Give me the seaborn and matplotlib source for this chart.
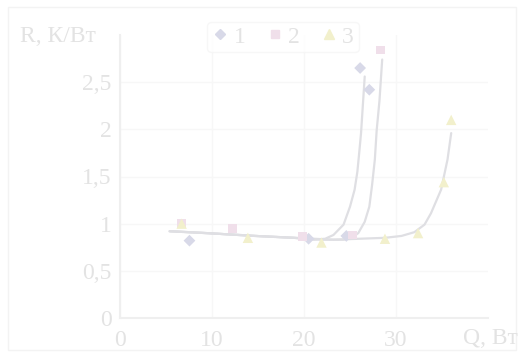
import matplotlib
matplotlib.use("Agg")
import matplotlib.pyplot as plt
import numpy as np
import pandas as pd
import seaborn as sns
from matplotlib.ticker import FuncFormatter

sns.set_theme(style="white")
plt.rcParams["font.family"] = ["Liberation Serif", "DejaVu Serif"]

# Measured points (Q, W -> R, K/W)
q1 = [7.55, 20.5, 24.6, 26.1, 27.1]
r1 = [0.82, 0.84, 0.87, 2.65, 2.42]

q2 = [6.7, 12.2, 19.8, 25.3, 28.3]
r2 = [1.00, 0.95, 0.86, 0.88, 2.84]

q3 = [6.7, 13.9, 21.9, 28.8, 32.4, 35.2, 36.0]
r3 = [1.00, 0.85, 0.80, 0.84, 0.90, 1.44, 2.10]

# Hand-drawn smooth curves
c1_q = [5.4, 9.4, 14.7, 18.9, 21.1, 22.3, 23.2, 24.3, 25.0, 25.5, 25.8, 26.0, 26.2, 26.4, 26.6]
c1_r = [0.92, 0.90, 0.87, 0.85, 0.83, 0.84, 0.88, 0.99, 1.18, 1.36, 1.55, 1.75, 1.96, 2.26, 2.56]

c2_q = [5.4, 9.4, 14.7, 18.9, 22.1, 24.3, 25.3, 25.9, 26.6, 27.1, 27.4, 27.7, 27.9, 28.2, 28.5]
c2_r = [0.92, 0.90, 0.87, 0.85, 0.83, 0.83, 0.86, 0.90, 1.02, 1.18, 1.41, 1.68, 1.99, 2.30, 2.74]

c3_q = [5.4, 9.4, 14.7, 18.9, 23.2, 28.8, 30.6, 32.0, 33.1, 33.8, 34.9, 35.6, 36.0]
c3_r = [0.92, 0.90, 0.87, 0.85, 0.83, 0.85, 0.87, 0.91, 0.99, 1.11, 1.36, 1.68, 1.96]

x_ticks = [0, 10, 20, 30]
y_ticks = [0, 0.5, 1, 1.5, 2, 2.5]

TEXT = "#e3e3e3"
LINE = "#dfdfe3"
COL1 = "#d8d9e8"
COL2 = "#f0dfea"
COL3 = "#f2f0cc"
FS = 17


def comma_fmt(v, pos):
    s = f"{v:g}"
    return s.replace(".", ",")


fig = plt.figure(figsize=(5.2, 3.52), dpi=100)
fig.patch.set_facecolor("white")
fig.patches.append(plt.Rectangle((8 / 520, 2 / 352), 508 / 520, 343 / 352,
                                 transform=fig.transFigure, fill=False,
                                 edgecolor="#f3f3f3", lw=1))
ax = fig.add_axes([120 / 520, 34 / 352, (488 - 120) / 520, (318 - 35) / 352])

for cq, cr in [(c1_q, c1_r), (c2_q, c2_r), (c3_q, c3_r)]:
    sns.lineplot(x=cq, y=cr, sort=False, color=LINE, lw=1.6, ax=ax, zorder=2)

sns.scatterplot(x=q1, y=r1, marker="D", s=36, color=COL1, edgecolor="none", ax=ax, zorder=3)
sns.scatterplot(x=q2, y=r2, marker="s", s=40, color=COL2, edgecolor="none", ax=ax, zorder=3)
sns.scatterplot(x=q3, y=r3, marker="^", s=56, color=COL3, edgecolor="none", ax=ax, zorder=3)

ax.set_xlim(0, 40)
ax.set_ylim(0, 3)
ax.set_xticks(x_ticks)
ax.set_yticks(y_ticks)
ax.xaxis.set_major_formatter(FuncFormatter(comma_fmt))
ax.yaxis.set_major_formatter(FuncFormatter(comma_fmt))
ax.tick_params(axis="both", length=0, labelsize=FS, labelcolor=TEXT)
ax.tick_params(axis="x", pad=9)
ax.tick_params(axis="y", pad=6)
ax.grid(True, color="#f7f7f7", lw=1)
for side in ["top", "right"]:
    ax.spines[side].set_visible(False)
for side in ["left", "bottom"]:
    ax.spines[side].set_color("#efefef")
    ax.spines[side].set_linewidth(1.5)
ax.set_xlabel("")
ax.set_ylabel("")

fig.text(20 / 520, 1 - 37 / 352, "R, К/Вт", fontsize=FS, color=TEXT, ha="left", va="center")
fig.text(518 / 520, 1 - 339 / 352, "Q, Вт", fontsize=FS, color=TEXT, ha="right", va="center")

# legend
handles = [
    plt.Line2D([], [], marker="D", ls="", color=COL1, markersize=5.5),
    plt.Line2D([], [], marker="s", ls="", color=COL2, markersize=6),
    plt.Line2D([], [], marker="^", ls="", color=COL3, markersize=7.5),
]
leg = fig.legend(handles, ["1", "2", "3"], loc="center", bbox_to_anchor=(283 / 520, 1 - 37 / 352),
                 ncol=3, frameon=True, fontsize=FS, handlelength=0.7, handletextpad=0.2,
                 columnspacing=0.9, borderpad=0.2)
leg.get_frame().set_edgecolor("#f5f5f5")
leg.get_frame().set_linewidth(1)
for t in leg.get_texts():
    t.set_color(TEXT)

fig.savefig("out.png", dpi=100)
